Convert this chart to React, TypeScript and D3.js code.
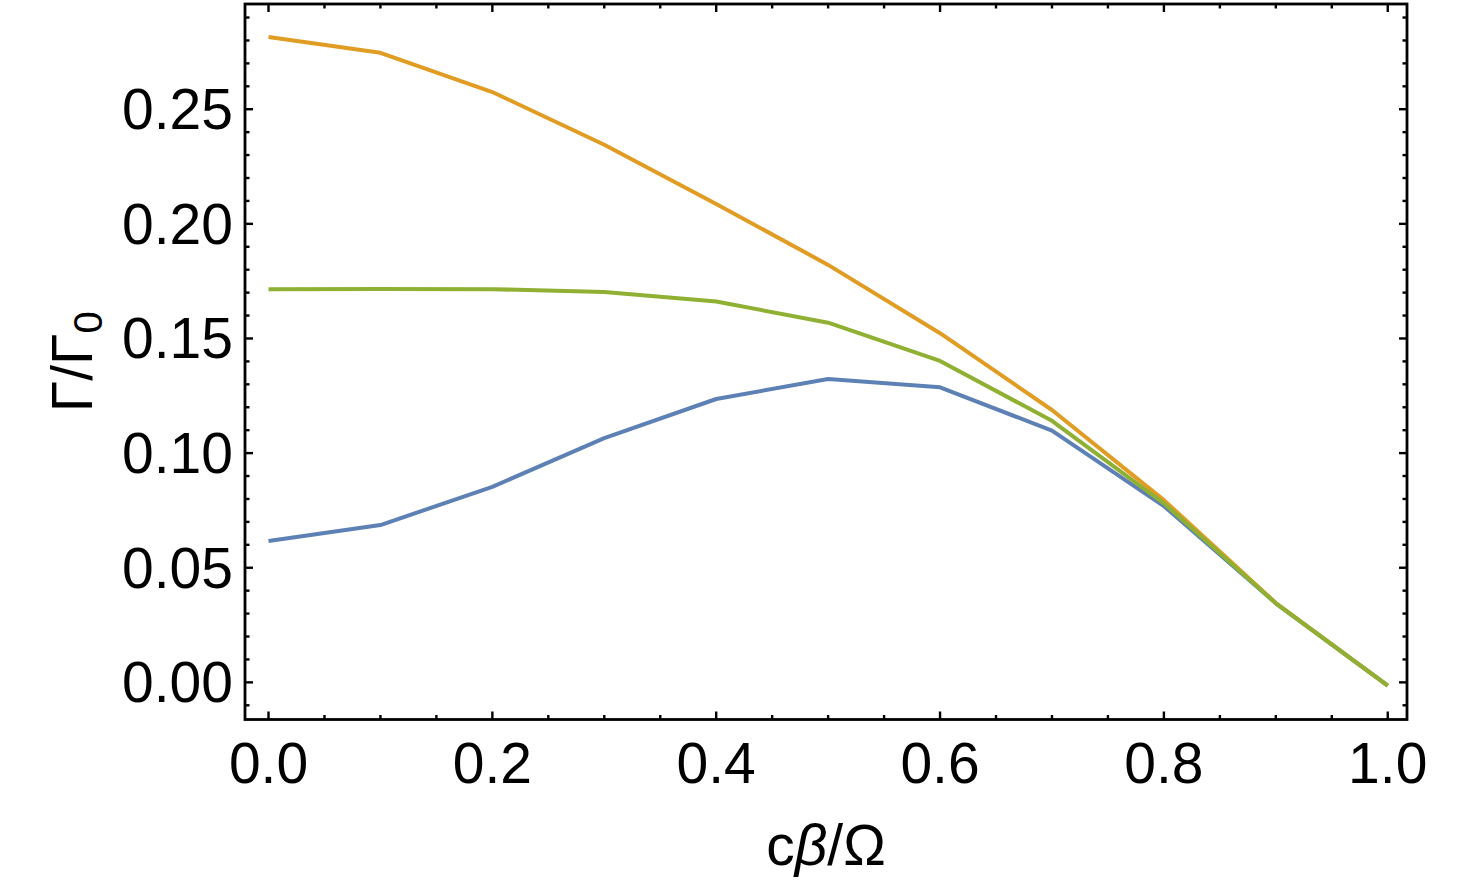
import React, { useEffect, useRef } from 'react';
import * as d3 from 'd3';

// x values (cβ/Ω)
const xs = [0, 0.1, 0.2, 0.3, 0.4, 0.5, 0.6, 0.7, 0.8, 0.9, 1.0];

// Γ/Γ0 for the three curves
const blueSeries = [0.0617, 0.0686, 0.0853, 0.1065, 0.1236, 0.1323, 0.1287, 0.1098, 0.0769, 0.0345, -0.0014];
const orangeSeries = [0.2815, 0.2746, 0.2575, 0.2345, 0.2087, 0.1821, 0.1523, 0.1188, 0.0795, 0.0346, -0.0014];
const greenSeries = [0.1715, 0.1716, 0.1715, 0.1703, 0.1661, 0.1569, 0.1402, 0.1141, 0.0781, 0.0345, -0.0014];

const xTickLabels = ['0.0', '0.2', '0.4', '0.6', '0.8', '1.0'];
const yTickLabels = ['0.00', '0.05', '0.10', '0.15', '0.20', '0.25'];

const FONT = '"Liberation Sans", Arial, sans-serif';

const App = () => {
  const svgRef = useRef<SVGSVGElement>(null);

  useEffect(() => {
    const svg = d3.select(svgRef.current);
    svg.selectAll('*').remove();

    const W = 1470;
    const H = 883;
    const left = 245, right = 1407, top = 4, bottom = 719.5;

    const x = d3.scaleLinear().domain([-0.021, 1.0172]).range([left, right]);
    const y = d3.scaleLinear().domain([-0.0162, 0.2959]).range([bottom, top]);

    svg.append('rect').attr('width', W).attr('height', H).attr('fill', 'white');

    const g = svg.append('g');

    // lines
    const series = [
      { values: blueSeries, color: '#5E81B5' },
      { values: orangeSeries, color: '#E19C24' },
      { values: greenSeries, color: '#8FB032' },
    ];
    const line = d3.line<number>()
      .x((_, i) => x(xs[i]))
      .y(d => y(d));

    series.forEach(s => {
      g.append('path')
        .datum(s.values)
        .attr('fill', 'none')
        .attr('stroke', s.color)
        .attr('stroke-width', 4)
        .attr('stroke-linejoin', 'round')
        .attr('d', line);
    });

    // ticks on all four sides
    const ticks = g.append('g').attr('stroke', 'black').attr('stroke-width', 2.4);
    const xMinor = d3.range(0, 21).map(i => i * 0.05);
    xMinor.forEach((v, i) => {
      const len = i % 4 === 0 ? 8 : 4.5;
      const px = x(v);
      ticks.append('line').attr('x1', px).attr('x2', px).attr('y1', bottom).attr('y2', bottom - len);
      ticks.append('line').attr('x1', px).attr('x2', px).attr('y1', top).attr('y2', top + len);
    });
    const yMinor = d3.range(-1, 30).map(i => i * 0.01);
    yMinor.forEach((v, i) => {
      const py = y(v);
      if (py > bottom || py < top) return;
      const len = (i - 1) % 5 === 0 ? 8 : 4.5;
      ticks.append('line').attr('x1', left).attr('x2', left + len).attr('y1', py).attr('y2', py);
      ticks.append('line').attr('x1', right).attr('x2', right - len).attr('y1', py).attr('y2', py);
    });

    // frame
    g.append('rect')
      .attr('x', left)
      .attr('y', top)
      .attr('width', right - left)
      .attr('height', bottom - top)
      .attr('fill', 'none')
      .attr('stroke', 'black')
      .attr('stroke-width', 2.8);

    // tick labels
    xTickLabels.forEach(t => {
      g.append('text')
        .attr('x', x(+t))
        .attr('y', 783)
        .attr('text-anchor', 'middle')
        .style('font-family', FONT)
        .style('font-size', '57px')
        .text(t);
    });
    yTickLabels.forEach(t => {
      g.append('text')
        .attr('x', 233)
        .attr('y', y(+t) + 20)
        .attr('text-anchor', 'end')
        .style('font-family', FONT)
        .style('font-size', '57px')
        .text(t);
    });

    // axis labels
    const xl = g.append('text')
      .attr('x', (left + right) / 2)
      .attr('y', 865)
      .attr('text-anchor', 'middle')
      .style('font-family', FONT)
      .style('font-size', '57px');
    xl.append('tspan').text('c');
    xl.append('tspan').style('font-style', 'italic').text('β');
    xl.append('tspan').text('/Ω');

    const yl = g.append('text')
      .attr('transform', `translate(92, ${(top + bottom) / 2}) rotate(-90)`)
      .attr('text-anchor', 'middle')
      .style('font-family', FONT)
      .style('font-size', '57px');
    yl.append('tspan').text('Γ/Γ');
    yl.append('tspan').attr('dy', 10).style('font-size', '40px').text('0');
  }, []);

  return (
    <svg
      ref={svgRef}
      width={1470}
      height={883}
      style={{ position: 'absolute', left: 0, top: 0 }}
    />
  );
};

export default App;
